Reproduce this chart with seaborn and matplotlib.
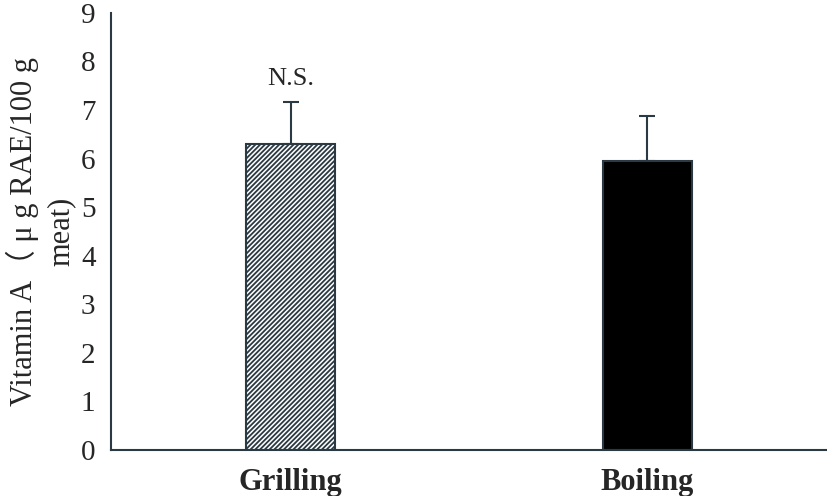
import matplotlib
matplotlib.use("Agg")
import matplotlib.pyplot as plt
import seaborn as sns
import pandas as pd

methods = ["Grilling", "Boiling"]
vitamin_a = [6.30, 5.95]
sd_upper = [0.86, 0.92]
yticks = [0, 1, 2, 3, 4, 5, 6, 7, 8, 9]

sns.set_style("white")
plt.rcParams["font.family"] = ["Liberation Serif", "Noto Sans CJK JP", "DejaVu Serif"]
plt.rcParams["hatch.linewidth"] = 1.3

edge = "#2b3a42"
df = pd.DataFrame({"method": methods, "value": vitamin_a})

fig = plt.figure(figsize=(8.27, 4.96), dpi=100)
ax = fig.add_axes([0.134, 0.093, 0.866, 0.881])
sns.barplot(data=df, x="method", y="value", order=methods, ax=ax,
            width=0.25, errorbar=None, palette=["white", "black"],
            hue="method", legend=False, edgecolor=edge, linewidth=1.5)
ax.patches[0].set_hatch("///////")
ax.patches[0].set_edgecolor(edge)

ax.errorbar(x=[0, 1], y=vitamin_a, yerr=[[0, 0], sd_upper], fmt="none",
            ecolor=edge, elinewidth=1.5, capsize=6, capthick=1.5)

ax.text(0, vitamin_a[0] + sd_upper[0] + 0.25, "N.S.", ha="center", va="bottom",
        fontsize=19)

ax.set_xlim(-0.505, 1.505)
ax.set_ylim(0, 9)
ax.set_yticks(yticks)
ax.set_yticklabels([str(t) for t in yticks], fontsize=21)
ax.set_xticks([0, 1])
ax.set_xticklabels(methods, fontsize=22, fontweight="bold")
ax.set_xlabel("")
ax.set_ylabel("Vitamin A\uff08 \u03bc g RAE/100 g\nmeat)", fontsize=22, linespacing=1.35,
              labelpad=4)
ax.tick_params(axis="y", direction="out", length=6, width=1.5, color=edge, pad=5)
ax.tick_params(axis="x", length=0, pad=13)
for s in ["top", "right"]:
    ax.spines[s].set_visible(False)
for s in ["left", "bottom"]:
    ax.spines[s].set_color(edge)
    ax.spines[s].set_linewidth(1.5)

fig.savefig("out.png", dpi=100)
